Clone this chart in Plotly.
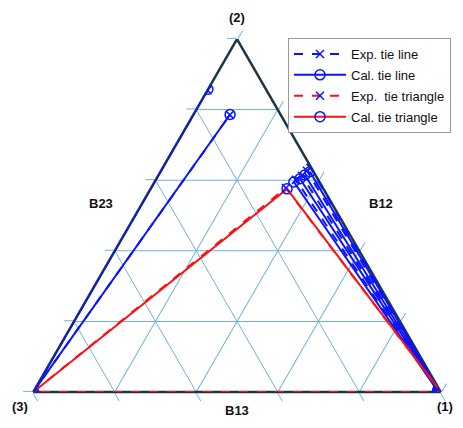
import plotly.graph_objects as go

# Ternary compositions: a = component (2) [top], b = component (3) [bottom-left], c = component (1) [bottom-right]
# Experimental tie lines (pairs separated by None)
exp_line_a = [0.0, 0.855, None, 0.0, 0.785, None, 0.004, 0.601, None, 0.004, 0.6125, None, 0.003, 0.627, None, 0.002, 0.635]
exp_line_b = [1.0, 0.145, None, 1.0, 0.125, None, 0.006, 0.055, None, 0.004, 0.0345, None, 0.003, 0.015, None, 0.002, 0.002]
exp_line_c = [0.0, 0.0, None, 0.0, 0.09, None, 0.99, 0.344, None, 0.992, 0.353, None, 0.994, 0.358, None, 0.996, 0.363]

# Calculated tie lines
cal_line_a = [0.0, 0.8575, None, 0.0, 0.786, None, 0.004, 0.595, None, 0.004, 0.604, None, 0.003, 0.615, None, 0.002, 0.624]
cal_line_b = [1.0, 0.1425, None, 1.0, 0.124, None, 0.006, 0.063, None, 0.004, 0.0435, None, 0.003, 0.026, None, 0.002, 0.009]
cal_line_c = [0.0, 0.0, None, 0.0, 0.09, None, 0.99, 0.342, None, 0.992, 0.3525, None, 0.994, 0.359, None, 0.996, 0.367]

# Experimental tie triangle (closed)
exp_tri_a = [0.0, 0.578, 0.0, 0.0]
exp_tri_b = [1.0, 0.091, 0.0, 1.0]
exp_tri_c = [0.0, 0.331, 1.0, 0.0]

# Calculated tie triangle
cal_tri_a = [0.0, 0.5755, 0.0]
cal_tri_b = [1.0, 0.0895, 0.0]
cal_tri_c = [0.0, 0.335, 1.0]

vertex_labels = ["(2)", "(3)", "(1)"]
edge_labels = ["B23", "B12", "B13"]
legend_names = ["Exp. tie line", "Cal. tie line", "Exp.\u00a0\u00a0tie triangle", "Cal. tie triangle"]

# The page body has an 8px margin; the figure is sized so the page does not scroll.
OFF = 8
W, H = 463 - OFF, 428 - 2 * OFF
BLUE = "#0a14ff"
RED = "#ff1010"
GRID = "#72b1d6"
EDGE = "#1c3548"
FONT = "Arial, Liberation Sans, sans-serif"


def px_x(x):
    return (x - OFF) / W


def px_y(y):
    return 1 - (y - OFF) / H


fig = go.Figure()

fig.add_trace(go.Scatterternary(
    a=cal_line_a, b=cal_line_b, c=cal_line_c, mode="lines+markers",
    name=legend_names[1], legendrank=2, legendgroup="g2",
    line=dict(color=BLUE, width=2),
    marker=dict(symbol="circle-open", size=10, color=BLUE, line=dict(width=1.5)),
))
fig.add_trace(go.Scatterternary(
    a=exp_line_a, b=exp_line_b, c=exp_line_c, mode="lines+markers",
    name=legend_names[0], legendrank=1, legendgroup="g1",
    line=dict(color=BLUE, width=2, dash="dash"),
    marker=dict(symbol="x-thin", size=8, color=BLUE, line=dict(width=1.5, color=BLUE)),
))
fig.add_trace(go.Scatterternary(
    a=cal_tri_a, b=cal_tri_b, c=cal_tri_c, mode="lines+markers",
    name=legend_names[3], legendrank=4, legendgroup="g4",
    line=dict(color=RED, width=2),
    marker=dict(symbol="circle-open", size=10, color=BLUE, line=dict(width=1.5)),
))
fig.add_trace(go.Scatterternary(
    a=exp_tri_a, b=exp_tri_b, c=exp_tri_c, mode="lines+markers",
    name=legend_names[2], legendrank=3, legendgroup="g3",
    line=dict(color=RED, width=2, dash="dash"),
    marker=dict(symbol="x-thin", size=8, color=BLUE, line=dict(width=1.5, color=BLUE)),
))

axis_style = dict(
    min=0, dtick=0.2, tick0=0, showgrid=True, gridcolor=GRID, gridwidth=1.2,
    ticks="outside", ticklen=9, tickcolor=GRID, tickwidth=1.2,
    showticklabels=False, showline=True, linecolor=EDGE, linewidth=2.5,
    layer="below traces", title=dict(text=""),
)

fig.update_layout(
    width=W, height=H,
    margin=dict(l=0, r=0, t=0, b=0),
    paper_bgcolor="white",
    font=dict(family=FONT, size=12, color="#111"),
    ternary=dict(
        sum=1,
        domain=dict(x=[px_x(33), px_x(441)], y=[px_y(392), px_y(39)]),
        bgcolor="white",
        aaxis=axis_style, baxis=axis_style, caxis=axis_style,
    ),
    legend=dict(
        x=px_x(288), y=px_y(38), xanchor="left", yanchor="top",
        bgcolor="white", bordercolor="#999", borderwidth=1,
        font=dict(family=FONT, size=13, color="#111"),
        itemwidth=52, tracegroupgap=1,
    ),
    showlegend=True,
)

ann = [
    (vertex_labels[0], 237, 18),
    (vertex_labels[1], 20, 406),
    (vertex_labels[2], 445, 406),
    (edge_labels[0], 101, 203),
    (edge_labels[1], 381, 203),
    (edge_labels[2], 237, 410),
]
for text, x, y in ann:
    fig.add_annotation(
        x=px_x(x), y=px_y(y), xref="paper", yref="paper",
        text="<b>%s</b>" % text, showarrow=False,
        font=dict(family=FONT, size=13, color="#111"),
        xanchor="center", yanchor="middle",
    )

fig.write_html("out.html")
